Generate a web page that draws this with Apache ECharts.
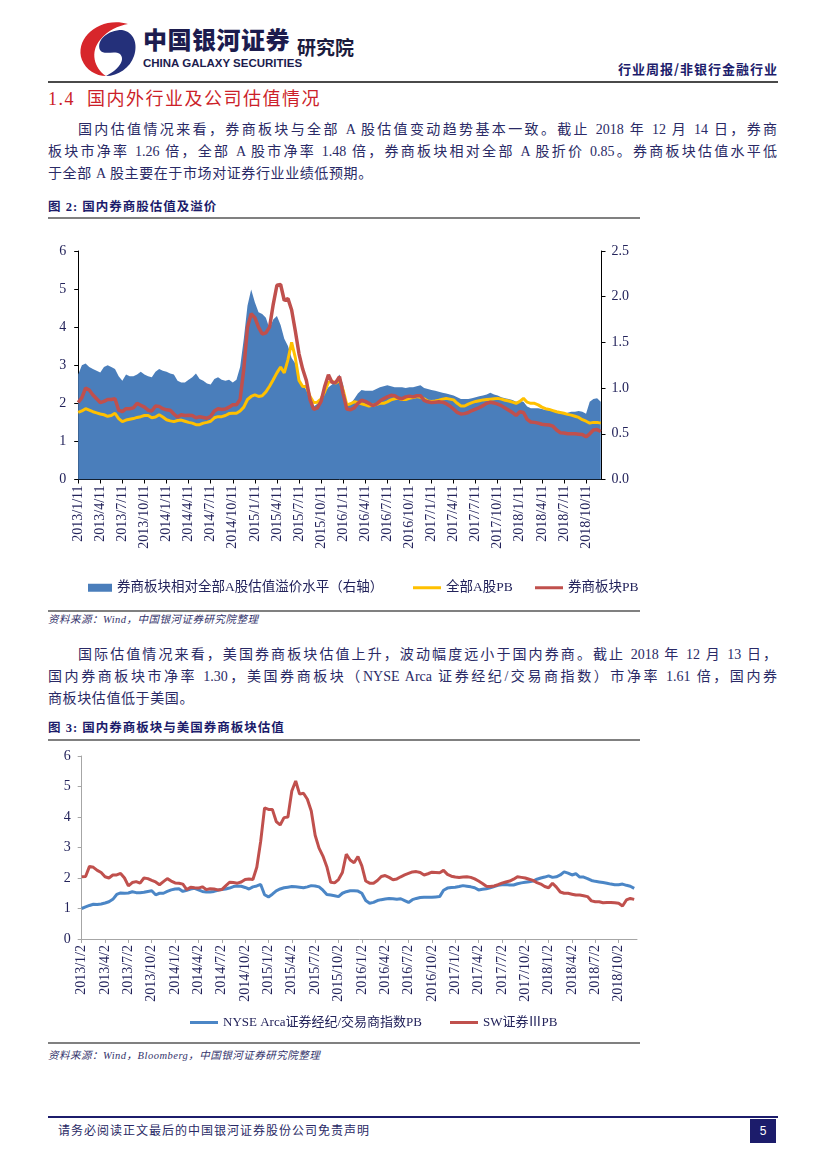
<!DOCTYPE html>
<html><head><meta charset="utf-8">
<script src="https://cdn.jsdelivr.net/npm/echarts@6/dist/echarts.min.js"></script>
<style>
html,body{margin:0;padding:0;background:#fff;}
#page{position:relative;width:827px;height:1169px;overflow:hidden;background:#fff;font-family:"Liberation Serif","Noto Sans CJK SC",serif;color:#2a2a66;}
.abs{position:absolute;white-space:nowrap;}
.ln{position:absolute;height:22px;line-height:22px;font-size:14px;text-align:justify;text-align-last:justify;}
.last{text-align:left;text-align-last:left;letter-spacing:0.6px;}
.rule{position:absolute;}
.figt{position:absolute;white-space:nowrap;font-family:"Liberation Serif","Noto Sans CJK SC",serif;font-weight:bold;font-size:12.5px;letter-spacing:1px;color:#1c1c6b;line-height:16px;}
.src{position:absolute;white-space:nowrap;font-style:italic;font-size:10.5px;color:#33336b;line-height:14px;letter-spacing:0.5px;}
</style></head>
<body>
<div id="page">
  <svg class="abs" style="left:0;top:0" width="160" height="90">
    <path d="M 128 24 C 100 16, 74 38, 82 60 C 86 70, 96 76, 106 76 C 94 68, 90 52, 100 40 C 108 30, 118 26, 128 24 Z" fill="#d7262b"/>
    <path d="M 100 50 C 96 40, 108 30, 122 30 C 134 32, 138 44, 134 56 C 130 68, 118 76, 106 76 C 118 70, 126 60, 120 54 C 114 50, 104 56, 100 50 Z" fill="#24307a"/>
  </svg>
  <div class="abs" style="left:143px;top:25px;font-family:'Noto Sans CJK SC';font-weight:900;font-size:24px;line-height:28px;letter-spacing:0.5px;color:#1c1c4e;">中国银河证券</div>
  <div class="abs" style="left:143px;top:56px;font-family:'Liberation Sans Narrow','Liberation Sans',sans-serif;font-weight:bold;font-size:11.5px;line-height:14px;color:#1c1c4e;">CHINA GALAXY SECURITIES</div>
  <div class="abs" style="left:297px;top:36px;font-family:'Noto Sans CJK SC';font-weight:bold;font-size:19px;line-height:22px;color:#1c1c3e;">研究院</div>
  <div class="abs" style="right:49px;top:60px;font-family:'Noto Sans CJK SC';font-weight:bold;font-size:13px;line-height:18px;letter-spacing:1px;color:#1c1c6b;">行业周报/非银行金融行业</div>
  <div class="rule" style="left:48px;top:81px;width:730px;height:2px;background:#4a4a4a;"></div>

  <div class="abs" style="left:48px;top:88px;font-size:18px;line-height:22px;color:#cc1f2a;letter-spacing:1.5px;">1.4&nbsp;&nbsp;国内外行业及公司估值情况</div>

  <div class="ln" style="left:78px;top:119px;width:699px;">国内估值情况来看，券商板块与全部 A 股估值变动趋势基本一致。截止 2018 年 12 月 14 日，券商</div>
  <div class="ln" style="left:48px;top:141px;width:729px;">板块市净率 1.26 倍，全部 A 股市净率 1.48 倍，券商板块相对全部 A 股折价 0.85。券商板块估值水平低</div>
  <div class="ln last" style="left:48px;top:163px;width:729px;">于全部 A 股主要在于市场对证券行业业绩低预期。</div>

  <div class="figt" style="left:48px;top:199px;">图 2:&nbsp;国内券商股估值及溢价</div>
  <div class="rule" style="left:48px;top:217px;width:592px;height:2px;background:#808080;"></div>
  <div id="c1" style="position:absolute;left:0;top:222px;width:827px;height:388px;"></div>
  <div class="rule" style="left:48px;top:610px;width:592px;height:2px;background:#808080;"></div>
  <div class="src" style="left:48px;top:613px;">资料来源：Wind，中国银河证券研究院整理</div>

  <div class="ln" style="left:78px;top:644px;width:699px;">国际估值情况来看，美国券商板块估值上升，波动幅度远小于国内券商。截止 2018 年 12 月 13 日，</div>
  <div class="ln" style="left:48px;top:666px;width:729px;">国内券商板块市净率 1.30，美国券商板块（NYSE Arca 证券经纪/交易商指数）市净率 1.61 倍，国内券</div>
  <div class="ln last" style="left:48px;top:688px;width:729px;">商板块估值低于美国。</div>

  <div class="figt" style="left:48px;top:720px;">图 3:&nbsp;国内券商板块与美国券商板块估值</div>
  <div class="rule" style="left:48px;top:739px;width:592px;height:2px;background:#808080;"></div>
  <div id="c2" style="position:absolute;left:0;top:742px;width:827px;height:300px;"></div>
  <div class="rule" style="left:48px;top:1042px;width:592px;height:2px;background:#808080;"></div>
  <div class="src" style="left:48px;top:1049px;">资料来源：Wind，Bloomberg，中国银河证券研究院整理</div>

  <div class="rule" style="left:48px;top:1116px;width:730px;height:2px;background:#1c1c6b;"></div>
  <div class="abs" style="left:58px;top:1123px;font-size:12px;line-height:16px;letter-spacing:1px;color:#2a2a66;">请务必阅读正文最后的中国银河证券股份公司免责声明</div>
  <div class="abs" style="left:750px;top:1119px;width:26px;height:24px;background:#1c1c6b;color:#fff;font-family:'Liberation Sans';font-size:12px;line-height:24px;text-align:center;">5</div>
</div>
<script>
// ---------- DATA ----------
// Chart 1: sampled every half month starting 2013/1/11 (months since start = index * STEP)
const STEP = 0.5;
const tickLabels1 = ['2013/1/11','2013/4/11','2013/7/11','2013/10/11','2014/1/11','2014/4/11','2014/7/11','2014/10/11',
  '2015/1/11','2015/4/11','2015/7/11','2015/10/11','2016/1/11','2016/4/11','2016/7/11','2016/10/11',
  '2017/1/11','2017/4/11','2017/7/11','2017/10/11','2018/1/11','2018/4/11','2018/7/11','2018/10/11'];
const premium = [ // 券商板块相对全部A股估值溢价水平（右轴）
  1.15,1.25,1.27,1.23,1.21,1.19,1.17,1.23,1.25,1.23,
  1.21,1.13,1.08,1.15,1.13,1.13,1.15,1.18,1.15,1.13,
  1.12,1.18,1.21,1.19,1.18,1.16,1.15,1.08,1.06,1.06,
  1.09,1.12,1.16,1.10,1.08,1.05,1.04,1.10,1.12,1.09,
  1.08,1.09,1.06,1.09,1.23,1.54,1.90,2.08,1.94,1.83,
  1.81,1.77,1.65,1.75,1.79,1.69,1.54,1.46,1.33,1.27,
  1.08,1.04,0.98,0.90,0.80,0.83,0.88,0.96,1.01,1.04,
  1.08,1.15,1.04,0.81,0.83,0.88,0.94,0.98,0.97,0.97,
  0.97,0.99,1.01,1.02,1.03,1.02,1.01,1.01,1.01,1.00,
  1.01,1.01,1.02,1.03,1.00,0.99,0.98,0.97,0.96,0.95,
  0.94,0.93,0.92,0.90,0.88,0.88,0.88,0.89,0.90,0.91,
  0.92,0.93,0.95,0.93,0.92,0.90,0.89,0.88,0.87,0.85,
  0.86,0.85,0.80,0.78,0.78,0.78,0.77,0.76,0.76,0.75,
  0.73,0.72,0.72,0.73,0.74,0.74,0.75,0.74,0.72,0.85,
  0.88,0.89,0.85];
const allAPB = [ // 全部A股PB
  1.76,1.80,1.86,1.82,1.78,1.75,1.72,1.70,1.66,1.68,
  1.74,1.60,1.52,1.56,1.58,1.60,1.63,1.65,1.68,1.68,
  1.62,1.64,1.70,1.64,1.57,1.54,1.52,1.55,1.56,1.53,
  1.50,1.48,1.44,1.44,1.48,1.50,1.53,1.62,1.65,1.65,
  1.68,1.73,1.74,1.74,1.80,1.90,2.10,2.18,2.22,2.18,
  2.20,2.30,2.45,2.62,2.80,2.95,2.80,3.15,3.60,3.20,
  2.60,2.44,2.44,2.18,2.02,2.03,2.12,2.31,2.55,2.58,
  2.53,2.60,2.35,1.96,1.99,2.04,2.02,1.99,1.96,1.93,
  1.95,1.97,2.00,2.00,2.04,2.09,2.12,2.13,2.10,2.10,
  2.13,2.15,2.18,2.16,2.12,2.06,2.05,2.06,2.08,2.11,
  2.13,2.11,2.09,2.00,1.93,1.93,1.98,2.02,2.05,2.07,
  2.09,2.10,2.11,2.12,2.13,2.11,2.08,2.06,2.03,2.00,
  2.05,2.13,2.03,2.00,2.00,1.96,1.90,1.86,1.84,1.81,
  1.78,1.76,1.74,1.71,1.69,1.66,1.63,1.57,1.53,1.48,
  1.50,1.50,1.48];
const brokerPB = [ // 券商板块PB
  2.02,2.15,2.40,2.35,2.22,2.12,2.02,2.05,2.10,2.10,
  2.12,1.82,1.78,1.86,1.86,1.88,2.00,1.95,1.90,1.82,
  1.80,1.93,1.92,1.86,1.83,1.82,1.72,1.64,1.70,1.68,
  1.69,1.68,1.62,1.65,1.63,1.61,1.66,1.80,1.86,1.84,
  1.85,1.90,1.96,1.96,2.10,2.90,4.00,4.35,4.25,4.00,
  3.82,3.85,4.00,4.60,5.10,5.12,4.70,4.75,4.45,3.90,
  3.30,2.90,2.60,2.10,1.84,1.88,2.05,2.45,2.75,2.55,
  2.55,2.70,2.25,1.85,1.83,1.88,2.00,2.08,2.05,2.00,
  1.94,1.98,2.06,2.12,2.17,2.21,2.20,2.14,2.12,2.17,
  2.19,2.17,2.20,2.20,2.08,2.04,2.02,2.03,2.04,2.03,
  1.99,1.93,1.85,1.76,1.72,1.73,1.76,1.81,1.85,1.89,
  1.94,2.00,2.03,2.01,1.98,1.94,1.88,1.82,1.76,1.68,
  1.78,1.76,1.58,1.51,1.50,1.48,1.45,1.44,1.43,1.40,
  1.30,1.23,1.22,1.20,1.20,1.20,1.19,1.18,1.12,1.20,
  1.30,1.31,1.26];

// Chart 2: sampled every half month starting 2013/1/2
const tickLabels2 = ['2013/1/2','2013/4/2','2013/7/2','2013/10/2','2014/1/2','2014/4/2','2014/7/2','2014/10/2',
  '2015/1/2','2015/4/2','2015/7/2','2015/10/2','2016/1/2','2016/4/2','2016/7/2','2016/10/2',
  '2017/1/2','2017/4/2','2017/7/2','2017/10/2','2018/1/2','2018/4/2','2018/7/2','2018/10/2'];
const nysePB = [ // NYSE Arca证券经纪/交易商指数PB
  1.00,1.05,1.10,1.14,1.13,1.15,1.18,1.22,1.30,1.46,
  1.51,1.50,1.51,1.55,1.52,1.52,1.53,1.56,1.58,1.45,
  1.50,1.50,1.56,1.61,1.64,1.65,1.56,1.60,1.64,1.66,
  1.61,1.56,1.54,1.54,1.56,1.60,1.62,1.64,1.67,1.72,
  1.74,1.73,1.69,1.64,1.71,1.74,1.79,1.45,1.38,1.47,
  1.58,1.64,1.68,1.70,1.72,1.71,1.70,1.68,1.71,1.75,
  1.74,1.71,1.60,1.46,1.44,1.42,1.39,1.50,1.55,1.58,
  1.58,1.57,1.50,1.26,1.17,1.20,1.26,1.29,1.31,1.33,
  1.32,1.30,1.32,1.26,1.20,1.29,1.33,1.36,1.37,1.37,
  1.37,1.38,1.39,1.60,1.67,1.69,1.70,1.72,1.75,1.73,
  1.71,1.68,1.61,1.63,1.65,1.68,1.72,1.76,1.78,1.79,
  1.77,1.77,1.81,1.84,1.86,1.88,1.90,1.96,2.00,2.03,
  2.07,2.02,2.04,2.10,2.20,2.16,2.10,2.14,2.03,2.03,
  1.98,1.92,1.89,1.87,1.85,1.83,1.80,1.78,1.78,1.80,
  1.76,1.73,1.66];
const swPB = [ // SW证券ⅢPB
  2.04,2.05,2.38,2.35,2.25,2.18,2.04,2.00,2.10,2.10,
  2.15,2.00,1.74,1.85,1.88,1.83,2.00,1.98,1.92,1.87,
  1.78,1.88,1.98,1.90,1.84,1.83,1.80,1.62,1.70,1.68,
  1.67,1.71,1.62,1.65,1.64,1.61,1.62,1.74,1.86,1.85,
  1.83,1.87,1.95,1.97,1.95,2.35,3.20,4.30,4.25,4.25,
  3.85,3.74,3.98,4.00,4.85,5.18,4.75,4.78,4.58,4.20,
  3.40,2.98,2.72,2.37,1.86,1.84,1.95,2.18,2.78,2.59,
  2.50,2.70,2.40,1.90,1.83,1.83,1.92,2.05,2.08,2.02,
  1.94,1.97,2.04,2.10,2.15,2.20,2.21,2.18,2.10,2.14,
  2.19,2.18,2.17,2.25,2.12,2.06,2.03,2.02,2.03,2.04,
  2.02,1.97,1.90,1.82,1.73,1.72,1.74,1.78,1.83,1.87,
  1.90,1.96,2.04,2.02,2.00,1.96,1.92,1.85,1.80,1.72,
  1.68,1.83,1.70,1.54,1.50,1.50,1.47,1.44,1.44,1.42,
  1.39,1.25,1.22,1.22,1.19,1.20,1.20,1.19,1.17,1.08,
  1.28,1.33,1.30];

// ---------- BUILD ----------
const pairs = arr => arr.map((v, i) => [i * STEP, v]);
const tickVals = labels => labels.map((_, i) => i * 3);
const NAVY = '#23235b';
const SERIF = "'Liberation Serif','Noto Sans CJK SC',serif";
const lab = (extra) => Object.assign({color: NAVY, fontFamily: SERIF, fontSize: 14}, extra || {});

const c1 = echarts.init(document.getElementById('c1'), null, {renderer: 'canvas'});
const tv1 = tickVals(tickLabels1);
c1.setOption({
  animation: false,
  grid: {left: 78.2, right: 225.5, top: 29, height: 228.5, containLabel: false, outerBoundsMode: 'none'},
  xAxis: {
    type: 'value', min: 0, max: 71.1, interval: 3,
    axisLine: {show: true, lineStyle: {color: '#000', width: 1}},
    axisTick: {show: true, length: 4, customValues: tv1, lineStyle: {color: '#000'}},
    axisLabel: lab({customValues: tv1, rotate: 90, margin: 6,
      formatter: v => tickLabels1[Math.round(v / 3)] || ''}),
    splitLine: {show: false}
  },
  yAxis: [
    {type: 'value', min: 0, max: 6, interval: 1, position: 'left',
     axisLine: {show: true, lineStyle: {color: '#000'}},
     axisTick: {show: true, length: 4, lineStyle: {color: '#000'}},
     axisLabel: lab({margin: 12}), splitLine: {show: false}},
    {type: 'value', min: 0, max: 2.5, interval: 0.5, position: 'right',
     axisLine: {show: true, lineStyle: {color: '#000'}},
     axisTick: {show: true, length: 4, lineStyle: {color: '#000'}},
     axisLabel: lab({margin: 10, formatter: v => v.toFixed(1)}), splitLine: {show: false}}
  ],
  legend: [
    {data: ['券商板块相对全部A股估值溢价水平（右轴）'], left: 83, top: 354, icon: 'rect', itemWidth: 24, itemHeight: 8,
     textStyle: {color: NAVY, fontFamily: SERIF, fontSize: 13.5}},
    {data: ['全部A股PB'], left: 408, top: 354, icon: 'rect', itemWidth: 28, itemHeight: 3,
     textStyle: {color: NAVY, fontFamily: SERIF, fontSize: 13.5}},
    {data: ['券商板块PB'], left: 530, top: 354, icon: 'rect', itemWidth: 28, itemHeight: 3,
     textStyle: {color: NAVY, fontFamily: SERIF, fontSize: 13.5}}
  ],
  series: [
    {name: '券商板块相对全部A股估值溢价水平（右轴）', type: 'line', yAxisIndex: 1, data: pairs(premium),
     symbol: 'none', lineStyle: {width: 0}, itemStyle: {color: '#4a7ebb'},
     areaStyle: {color: '#4a7ebb', opacity: 1}, z: 1},
    {name: '全部A股PB', type: 'line', data: pairs(allAPB), symbol: 'none',
     lineStyle: {color: '#ffc000', width: 3}, itemStyle: {color: '#ffc000'}, z: 2},
    {name: '券商板块PB', type: 'line', data: pairs(brokerPB), symbol: 'none',
     lineStyle: {color: '#c0504d', width: 3.5}, itemStyle: {color: '#c0504d'}, z: 3}
  ]
});

const c2 = echarts.init(document.getElementById('c2'), null, {renderer: 'canvas'});
const tv2 = tickVals(tickLabels2);
c2.setOption({
  animation: false,
  grid: {left: 81.7, right: 190, top: 14, height: 183, containLabel: false, outerBoundsMode: 'none'},
  xAxis: {
    type: 'value', min: 0, max: 71.36, interval: 3,
    axisLine: {show: true, lineStyle: {color: '#a6a6a6', width: 1}},
    axisTick: {show: true, length: 4, customValues: tv2, lineStyle: {color: '#a6a6a6'}},
    axisLabel: lab({customValues: tv2, rotate: 90, margin: 6,
      formatter: v => tickLabels2[Math.round(v / 3)] || ''}),
    splitLine: {show: false}
  },
  yAxis: {type: 'value', min: 0, max: 6, interval: 1,
    axisLine: {show: true, lineStyle: {color: '#a6a6a6'}},
    axisTick: {show: true, length: 4, lineStyle: {color: '#a6a6a6'}},
    axisLabel: lab({margin: 11}), splitLine: {show: false}},
  legend: [
    {data: ['NYSE Arca证券经纪/交易商指数PB'], left: 185, top: 269, icon: 'rect', itemWidth: 28, itemHeight: 3,
     textStyle: {color: NAVY, fontFamily: SERIF, fontSize: 13}},
    {data: ['SW证券ⅢPB'], left: 445, top: 269, icon: 'rect', itemWidth: 28, itemHeight: 3,
     textStyle: {color: NAVY, fontFamily: SERIF, fontSize: 13}}
  ],
  series: [
    {name: 'NYSE Arca证券经纪/交易商指数PB', type: 'line', data: pairs(nysePB), symbol: 'none',
     lineStyle: {color: '#4b86c6', width: 3}, itemStyle: {color: '#4b86c6'}},
    {name: 'SW证券ⅢPB', type: 'line', data: pairs(swPB), symbol: 'none',
     lineStyle: {color: '#c0504d', width: 3}, itemStyle: {color: '#c0504d'}}
  ]
});
</script>
</body></html>
